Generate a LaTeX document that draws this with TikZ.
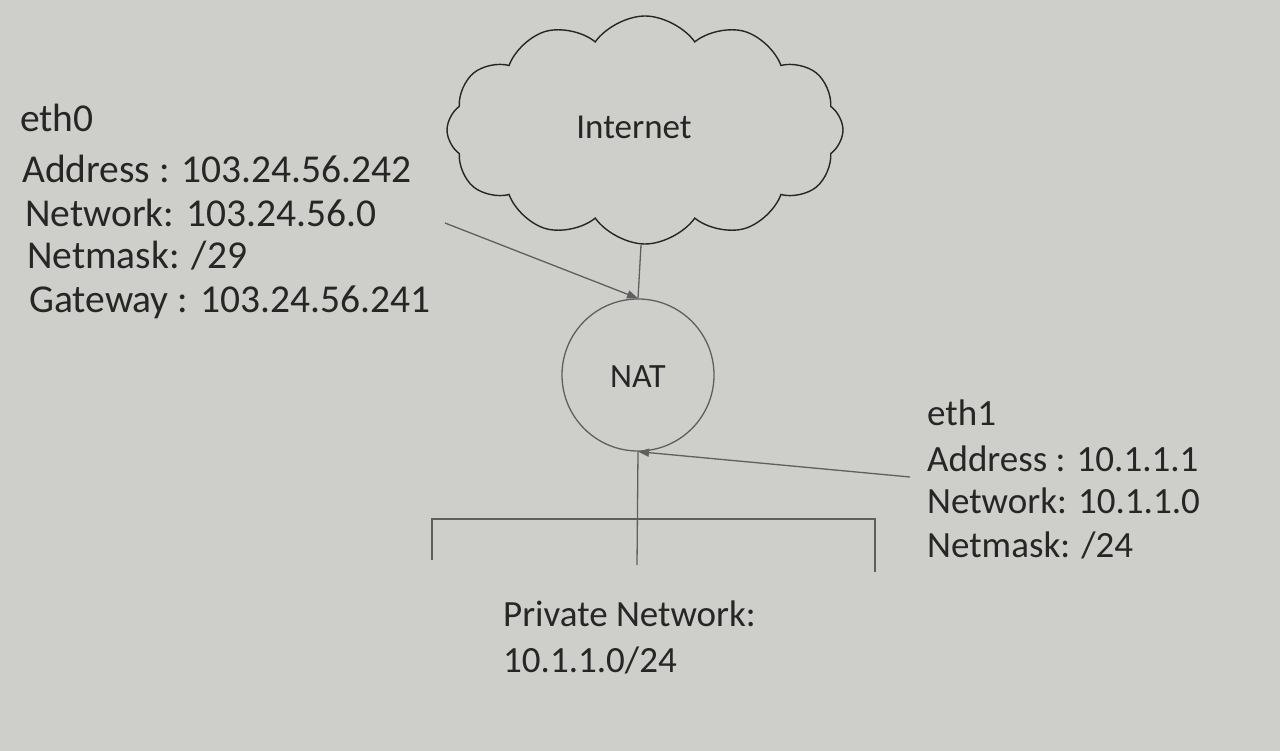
\documentclass[tikz,border=0pt]{standalone}
\usepackage{fontspec}
\setmainfont{Carlito}
\usetikzlibrary{shapes.symbols,arrows.meta}
\definecolor{paper}{RGB}{206,206,203}
\definecolor{ink}{RGB}{38,38,38}
\definecolor{wire}{RGB}{95,95,95}
\tikzset{
  info/.style={anchor=base west,inner sep=0pt,text=ink,font=\fontsize{37}{42}\selectfont},
  infobig/.style={info,font=\fontsize{39.5}{44}\selectfont},
  lbl/.style={text=ink,font=\fontsize{35}{40}\selectfont},
  wireline/.style={draw=wire,line width=1.3pt},
  arr/.style={wireline,-{Triangle[length=11pt,width=8pt]}},
}
\begin{document}
\begin{tikzpicture}[x=1pt,y=-1pt]
\fill[paper] (0,0) rectangle (1280,751);
\useasboundingbox (0,0) rectangle (1280,751);
% cloud
\node[cloud,draw=ink,line width=1.4pt,cloud puffs=12,cloud puff arc=110,aspect=1.75,
  minimum width=396pt,minimum height=228pt,inner sep=0pt] (cloud) at (645,130) {};
\node[lbl] (internet) at (634,127) {Internet};
% NAT
\node[circle,draw=wire,line width=1.3pt,minimum size=152pt,inner sep=0pt] (nat) at (638,375) {};
\node[lbl,font=\fontsize{34}{40}\selectfont] (natlbl) at (638,377) {NAT};
% lines
\coordinate (c0) at (641,245);
\coordinate (e0) at (445,223);
\coordinate (e1) at (910,477);
\coordinate (bt) at (637,565);
\draw[wireline] (c0) -- (nat.north);
\draw[arr] (e0) -- (nat.north);
\draw[arr] (e1) -- (nat.south);
\draw[wireline] (nat.south) -- (bt);
\coordinate (bl) at (432,560);
\coordinate (br) at (875,572);
\draw[wireline] (bl) -- (432,519) -- (875,519) -- (br);
% eth0
\node[infobig] (t0) at (20,132) {eth0};
\node[infobig] (t1) at (22,183) {Address : 103.24.56.242};
\node[infobig] (t2) at (25,227) {Network: 103.24.56.0};
\node[infobig] (t3) at (27,269) {Netmask: /29};
\node[infobig] (t4) at (29,313) {Gateway : 103.24.56.241};
% eth1
\node[info] (u0) at (927,425) {eth1};
\node[info] (u1) at (927,471) {Address : 10.1.1.1};
\node[info] (u2) at (927,513) {Network: 10.1.1.0};
\node[info] (u3) at (927,557) {Netmask: /24};
% private network
\node[info] (p0) at (503,626) {Private Network:};
\node[info] (p1) at (503,672) {10.1.1.0/24};
\end{tikzpicture}
\end{document}
